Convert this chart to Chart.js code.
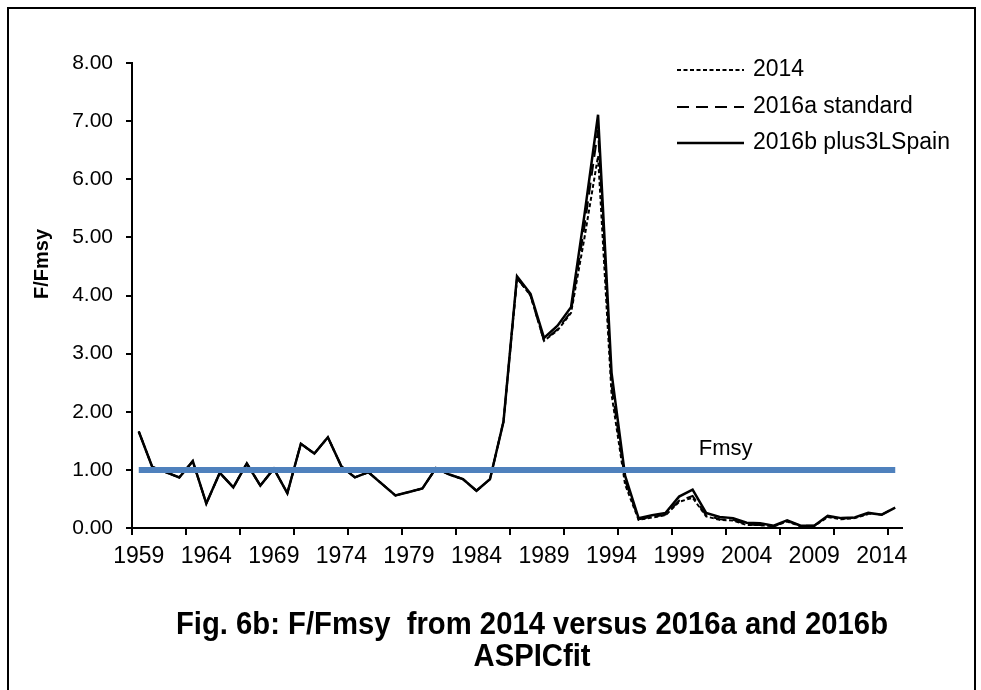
<!DOCTYPE html>
<html lang="en">
<head>
  <meta charset="UTF-8" />
  <title>F/Fmsy ASPIC fit</title>
  <script src="https://cdn.jsdelivr.net/npm/chart.js"></script>
  <style>
    *{margin:0;padding:0;box-sizing:border-box}
    body{background:#fff;font-family:'Liberation Sans',Arial,sans-serif;color:#000}
    .wrap{position:relative;width:981px;height:690px;overflow:hidden}
    .frame{position:absolute;left:7px;top:7px;width:969px;height:710px;border:2px solid #000;pointer-events:none}
    /* Excel title looks squeezed sideways, so scale it a bit */
    .title{position:absolute;left:0;width:1064px;font-weight:bold;font-size:32px;line-height:36px;
           text-align:center;white-space:pre;transform:scaleX(0.914);transform-origin:532px 0}
    #t1{top:605px}
    #t2{top:637px}
  </style>
</head>
<body>
  <div class="wrap">
    <canvas id="ffChart"></canvas>
    <div class="frame"></div>
    <div class="title" id="t1">Fig. 6b: F/Fmsy  from 2014 versus 2016a and 2016b</div>
    <div class="title" id="t2">ASPICfit</div>
  </div>

  <script>
    // years 1959..2015
    const years = [];
    for (let y = 1959; y <= 2015; y++) years.push(String(y));

    const ff2014 = [1.66,1.05,0.96,0.87,1.15,0.42,0.95,0.70,1.11,0.73,
                    1.02,0.60,1.45,1.28,1.56,1.06,0.87,0.96,0.76,0.56,
                    0.62,0.68,1.03,0.92,0.84,0.64,0.84,1.83,4.30,4.00,
                    3.22,3.40,3.70,5.00,6.40,2.30,0.75,0.14,0.18,0.22,
                    0.45,0.52,0.20,0.14,0.13,0.05,0.05,0.03,0.11,0.03,
                    0.03,0.19,0.15,0.17,0.24,null,null];
    const ff2016a = [1.66,1.05,0.96,0.87,1.15,0.42,0.95,0.70,1.11,0.73,
                     1.02,0.60,1.45,1.28,1.56,1.06,0.87,0.96,0.76,0.56,
                     0.62,0.68,1.03,0.92,0.84,0.64,0.84,1.83,4.30,4.00,
                     3.22,3.42,3.72,5.20,6.85,2.45,0.82,0.15,0.19,0.23,
                     0.47,0.55,0.22,0.15,0.14,0.06,0.05,0.03,0.12,0.04,
                     0.04,0.20,0.16,0.18,0.25,0.23,0.35];
    const ff2016b = [1.66,1.05,0.96,0.87,1.15,0.42,0.95,0.70,1.11,0.73,
                     1.02,0.60,1.45,1.28,1.56,1.06,0.87,0.96,0.76,0.56,
                     0.62,0.68,1.03,0.92,0.84,0.64,0.84,1.83,4.33,4.03,
                     3.27,3.48,3.80,5.40,7.11,2.67,0.90,0.17,0.22,0.26,
                     0.54,0.66,0.26,0.19,0.17,0.09,0.08,0.04,0.13,0.04,
                     0.04,0.21,0.17,0.18,0.26,0.23,0.35];
    const fmsyRef = years.map(() => 1.0);

    const yTicks = [0,1,2,3,4,5,6,7,8];
    const legendNames = ['2014', '2016a standard', '2016b plus3LSpain'];

    const FONT = "'Liberation Sans', Arial, sans-serif";

    // legend at top right, drawn with each dataset's own dash
    const boxLegend = {
      id: 'boxLegend',
      afterDraw(chart) {
        const ctx = chart.ctx;
        const rows = [70, 107, 143];
        ctx.save();
        ctx.font = '23px ' + FONT;
        ctx.fillStyle = '#000';
        ctx.textBaseline = 'middle';
        legendNames.forEach((name, i) => {
          const ds = chart.data.datasets.find(d => d.label === name);
          ctx.strokeStyle = '#000';
          ctx.lineWidth = ds.borderWidth;
          ctx.setLineDash(ds.borderDash || []);
          ctx.beginPath();
          ctx.moveTo(677, rows[i]);
          ctx.lineTo(744, rows[i]);
          ctx.stroke();
          ctx.setLineDash([]);
          ctx.fillText(name, 753, rows[i]);
        });
        ctx.restore();
      }
    };

    // "Fmsy" label above the reference line + y axis title (sits above centre in the original)
    const extraText = {
      id: 'extraText',
      afterDatasetsDraw(chart) {
        const { ctx, scales } = chart;
        ctx.save();
        ctx.font = '22px ' + FONT;
        ctx.fillStyle = '#000';
        ctx.textAlign = 'center';
        ctx.textBaseline = 'middle';
        ctx.fillText('Fmsy', scales.x.getPixelForValue(43) + 6, scales.y.getPixelForValue(1) - 21);

        ctx.translate(42, 264);
        ctx.rotate(-Math.PI / 2);
        ctx.font = 'bold 20px ' + FONT;
        ctx.fillText('F/Fmsy', 0, 0);
        ctx.restore();
      }
    };

    new Chart(document.getElementById('ffChart'), {
      type: 'line',
      data: {
        labels: years,
        datasets: [
          { label: 'Fmsy', data: fmsyRef, borderColor: '#4F81BD', borderWidth: 6, pointRadius: 0 },
          { label: '2014', data: ff2014, borderColor: '#000', borderWidth: 2, borderDash: [4, 2.5], pointRadius: 0 },
          { label: '2016a standard', data: ff2016a, borderColor: '#000', borderWidth: 2, borderDash: [12, 7], pointRadius: 0 },
          { label: '2016b plus3LSpain', data: ff2016b, borderColor: '#000', borderWidth: 2.5, pointRadius: 0 }
        ]
      },
      options: {
        responsive: true,
        maintainAspectRatio: false,
        animation: false,
        layout: { padding: { top: 63, right: 79, bottom: 0, left: 0 } },
        elements: { line: { tension: 0, borderCapStyle: 'butt' } },
        plugins: {
          legend: { display: false },
          tooltip: { enabled: false }
        },
        scales: {
          x: {
            type: 'category',
            offset: true,
            afterFit: s => { s.height = 162; },
            border: { display: true, color: '#000', width: 2 },
            grid: {
              offset: true,
              drawOnChartArea: false,
              drawTicks: true,
              tickLength: 7,
              lineWidth: 2,
              color: c => (c.index % 4 === 0 ? '#000' : 'rgba(0,0,0,0)')
            },
            ticks: {
              autoSkip: false,
              maxRotation: 0,
              minRotation: 0,
              padding: 8,
              color: '#000',
              font: { family: FONT, size: 23 },
              callback: (v, i) => (i % 5 === 0 ? years[i] : '')
            }
          },
          y: {
            min: 0,
            max: 8,
            afterFit: s => { s.width = 132; },
            afterBuildTicks: s => { s.ticks = yTicks.map(v => ({ value: v })); },
            border: { display: true, color: '#000', width: 2 },
            grid: { drawOnChartArea: false, drawTicks: true, tickLength: 6, lineWidth: 2, color: '#000' },
            ticks: {
              padding: 13,
              color: '#000',
              font: { family: FONT, size: 21 },
              callback: v => v.toFixed(2)
            }
          }
        }
      },
      plugins: [boxLegend, extraText]
    });
  </script>
</body>
</html>
